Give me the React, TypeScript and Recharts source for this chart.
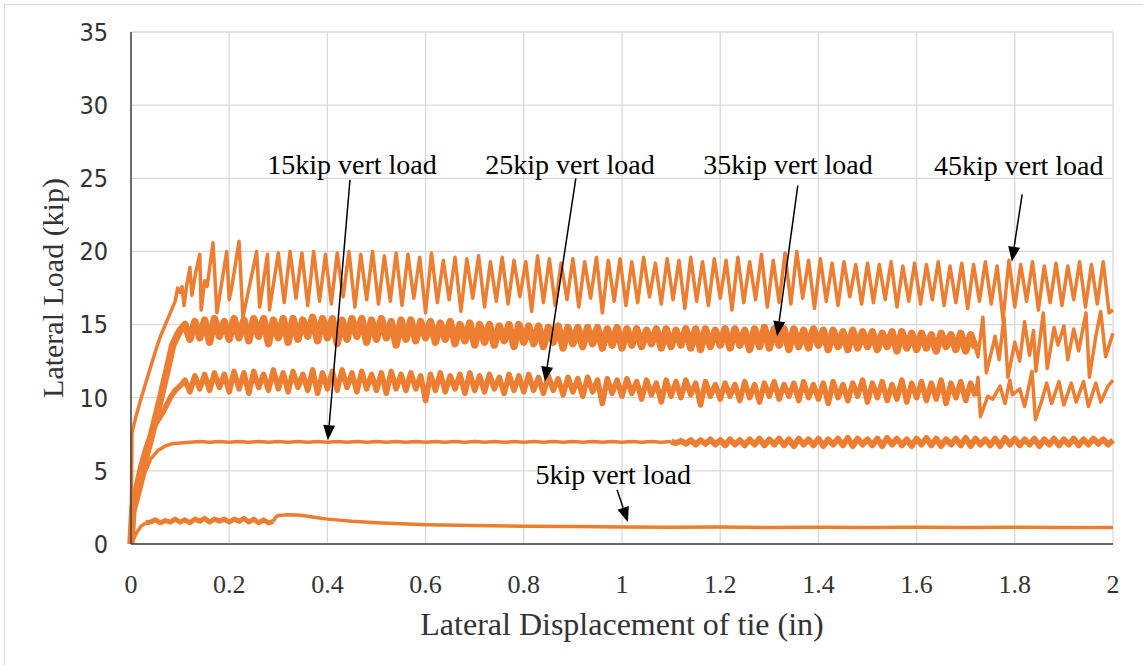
import React from 'react';
import { LineChart, Line, XAxis, YAxis, CartesianGrid, ReferenceLine, ReferenceDot, Label } from 'recharts';

const ORANGE = '#ED7D31';
const SERIF = "'Liberation Serif', 'Times New Roman', serif";
const NARROW = "'Liberation Sans Narrow', 'DejaVu Sans Condensed', sans-serif";

const xTicks = [0, 0.2, 0.4, 0.6, 0.8, 1, 1.2, 1.4, 1.6, 1.8, 2];
const yTicks = [0, 5, 10, 15, 20, 25, 30, 35];

// 5 kip vertical load
const load5Start: [number, number][] = [
  [0, 0], [0.006, 0.4], [0.012, 0.8], [0.02, 1.2], [0.03, 1.45],
];
const load5Noisy: [number, number][] = [
  [0.03, 1.45], [0.04, 1.5], [0.05, 1.65], [0.06, 1.45], [0.07, 1.6], [0.08, 1.5], [0.09, 1.7], [0.1, 1.5],
  [0.11, 1.65], [0.12, 1.45], [0.13, 1.7], [0.14, 1.55], [0.15, 1.75], [0.16, 1.5], [0.17, 1.7], [0.18, 1.55],
  [0.19, 1.7], [0.2, 1.5], [0.21, 1.7], [0.22, 1.55], [0.23, 1.75], [0.24, 1.5], [0.25, 1.7], [0.26, 1.45],
  [0.27, 1.65], [0.28, 1.45], [0.29, 1.55],
];
const load5Decay: [number, number][] = [
  [0.29, 1.55], [0.295, 1.85], [0.3, 1.95], [0.32, 2.0], [0.34, 1.98], [0.36, 1.9], [0.38, 1.8], [0.4, 1.7],
  [0.45, 1.55], [0.5, 1.45], [0.55, 1.38], [0.6, 1.32], [0.7, 1.27], [0.8, 1.22], [0.9, 1.2], [1.0, 1.17],
  [1.1, 1.15], [1.2, 1.16], [1.3, 1.13], [1.4, 1.15], [1.5, 1.12], [1.6, 1.14], [1.7, 1.12], [1.8, 1.14],
  [1.9, 1.12], [2.0, 1.13],
];

// 15 kip vertical load
const load15Rise: [number, number][] = [
  [0, 0], [0.004, 1.8], [0.014, 3.0], [0.028, 4.85], [0.04, 5.8], [0.055, 6.4], [0.07, 6.7], [0.083, 6.85], [0.1, 6.9],
];
// every 0.02 in from 0.12 in
const load15Flat = [
  6.95, 7.0, 6.95, 7.0, 6.95, 7.0, 6.95, 7.0, 6.95, 7.0,
  6.95, 7.0, 6.95, 7.0, 6.95, 7.0, 6.95, 7.0, 6.95, 7.0,
  6.95, 7.0, 6.95, 7.0, 6.95, 7.0, 6.95, 7.0, 6.95, 7.0,
  6.95, 7.0, 6.95, 7.0, 6.95, 7.0, 6.95, 7.0, 6.95, 7.0,
  6.95, 7.0, 6.95, 7.0, 6.95, 7.0, 6.95, 7.0, 6.95, 7.0,
];
// every 0.01 in from 1.10 in
const load15Noisy = [
  7.0, 6.9, 7.05, 6.85, 7.1, 6.8, 7.1, 6.85, 7.15, 6.8,
  7.1, 6.75, 7.15, 6.8, 7.1, 6.75, 7.15, 6.8, 7.2, 6.75,
  7.15, 6.8, 7.2, 6.75, 7.15, 6.7, 7.2, 6.8, 7.15, 6.75,
  7.2, 6.7, 7.15, 6.8, 7.2, 6.75, 7.25, 6.7, 7.2, 6.8,
  7.15, 6.75, 7.2, 6.7, 7.25, 6.8, 7.2, 6.75, 7.15, 6.7,
  7.2, 6.8, 7.25, 6.75, 7.2, 6.7, 7.15, 6.8, 7.2, 6.75,
  7.25, 6.7, 7.2, 6.8, 7.15, 6.75, 7.2, 6.7, 7.25, 6.8,
  7.2, 6.75, 7.15, 6.8, 7.2, 6.7, 7.15, 6.8, 7.2, 6.75,
  7.15, 6.8, 7.2, 6.75, 7.15, 6.8, 7.2, 6.85, 7.15, 6.8,
  7.1,
];

// 25 kip vertical load
const load25Rise: [number, number][] = [
  [0, 0], [0.005, 2.5], [0.01, 3.8], [0.02, 5.3], [0.03, 6.5], [0.04, 7.4], [0.05, 8.2], [0.065, 9.0],
  [0.08, 10.0], [0.09, 10.5], [0.1, 10.8],
];
// every 0.01 in from 0.11 in
const load25Band = [
  11.2, 10.4, 11.5, 10.6, 11.6, 10.5, 11.7, 10.7, 11.6, 10.4,
  11.8, 10.6, 11.7, 10.3, 11.8, 10.7, 11.6, 10.5, 11.9, 10.6,
  11.7, 10.4, 11.8, 10.7, 11.6, 10.5, 11.9, 10.3, 11.7, 10.6,
  11.8, 10.5, 11.9, 10.7, 11.7, 10.4, 11.8, 10.6, 11.6, 10.5,
  11.7, 10.3, 11.8, 10.6, 11.6, 10.5, 11.7, 10.6, 11.5, 9.8,
  11.6, 10.5, 11.7, 10.4, 11.5, 10.6, 11.6, 10.3, 11.7, 10.5,
  11.5, 10.4, 11.6, 10.6, 11.4, 10.3, 11.6, 10.5, 11.5, 10.4,
  11.6, 10.5, 11.4, 10.3, 11.5, 10.5, 11.3, 10.2, 11.4, 10.4,
  11.3, 10.1, 11.4, 10.4, 11.2, 9.6, 11.3, 10.3, 11.2, 10.1,
  11.3, 10.3, 11.1, 9.9, 11.2, 10.2, 11.0, 9.7, 11.2, 10.1,
  11.1, 10.0, 11.2, 10.2, 11.0, 9.5, 11.1, 10.1, 10.9, 9.9,
  11.0, 10.1, 10.9, 9.8, 11.1, 10.0, 10.9, 9.7, 11.0, 10.1,
  11.1, 9.9, 10.9, 10.1, 11.0, 9.8, 11.1, 10.0, 10.9, 9.9,
  11.0, 9.6, 11.1, 10.0, 10.9, 9.8, 11.0, 10.1, 11.2, 9.7,
  11.0, 10.0, 11.1, 9.8, 10.9, 9.9, 11.2, 9.7, 11.0, 10.0,
  11.1, 9.8, 11.0, 9.9, 11.2, 9.6, 11.0, 10.0, 11.1, 9.8,
  11.0, 10.1,
];
const load25Tail: [number, number][] = [
  [1.72, 10.1], [1.725, 11.4], [1.73, 8.7], [1.745, 10.1], [1.755, 9.9], [1.77, 10.8], [1.78, 9.6], [1.79, 11.2],
  [1.795, 10.2], [1.81, 10.6], [1.82, 9.4], [1.835, 11.8], [1.842, 8.5], [1.855, 9.8], [1.865, 11.0], [1.875, 9.6],
  [1.89, 11.1], [1.9, 9.5], [1.915, 11.0], [1.925, 9.7], [1.94, 11.1], [1.95, 9.4], [1.965, 11.0], [1.975, 9.7],
  [1.99, 10.8], [2.0, 11.2],
];

// 35 kip vertical load
const load35Rise: [number, number][] = [
  [0, 0], [0.004, 2.5], [0.012, 3.6], [0.025, 5.3], [0.043, 7.6], [0.059, 9.8], [0.075, 12.1], [0.085, 13.6],
  [0.095, 14.3], [0.1, 14.6],
];
// every 0.01 in from 0.11 in
const load35Band = [
  15.0, 14.0, 15.2, 14.1, 15.3, 13.8, 15.4, 14.2, 15.2, 14.0,
  15.4, 14.1, 15.3, 13.9, 15.4, 14.2, 15.4, 13.7, 15.3, 14.1,
  15.4, 13.8, 15.4, 14.0, 15.3, 14.2, 15.5, 13.9, 15.4, 14.1,
  15.4, 13.7, 15.3, 14.0, 15.4, 14.2, 15.4, 13.8, 15.3, 14.0,
  15.4, 14.1, 15.2, 13.6, 15.3, 14.0, 15.3, 13.9, 15.2, 14.1,
  15.2, 13.8, 15.1, 14.0, 15.2, 13.7, 15.0, 13.9, 15.1, 13.6,
  15.0, 13.8, 15.0, 13.6, 14.9, 13.9, 15.0, 13.5, 15.0, 13.8,
  14.9, 13.7, 14.9, 13.5, 14.8, 13.8, 14.9, 13.4, 14.8, 13.7,
  14.8, 13.5, 14.8, 13.7, 14.8, 13.4, 14.7, 13.6, 14.8, 13.4,
  14.7, 13.6, 14.7, 13.5, 14.6, 13.7, 14.7, 13.4, 14.7, 13.5,
  14.6, 13.6, 14.7, 13.4, 14.7, 13.3, 14.7, 13.5, 14.6, 13.6,
  14.7, 13.4, 14.7, 13.6, 14.6, 13.3, 14.7, 13.5, 14.8, 13.4,
  14.7, 13.6, 14.7, 13.3, 14.7, 13.5, 14.6, 13.4, 14.7, 13.6,
  14.6, 13.3, 14.6, 13.5, 14.5, 13.3, 14.6, 13.4, 14.5, 13.5,
  14.5, 13.3, 14.4, 13.5, 14.5, 13.2, 14.5, 13.4, 14.4, 13.3,
  14.4, 13.4, 14.3, 13.2, 14.4, 13.5, 14.3, 13.3, 14.4, 13.2,
  14.3, 13.4,
];
const load35Tail: [number, number][] = [
  [1.72, 13.4], [1.725, 12.8], [1.735, 15.5], [1.742, 11.7], [1.76, 14.2], [1.768, 12.6], [1.778, 15.5],
  [1.786, 11.4], [1.8, 13.8], [1.81, 12.5], [1.82, 15.2], [1.83, 12.9], [1.838, 14.6], [1.843, 11.8],
  [1.858, 15.8], [1.866, 12.0], [1.88, 14.8], [1.888, 13.6], [1.9, 14.9], [1.908, 12.6], [1.92, 14.7],
  [1.93, 13.2], [1.945, 15.8], [1.952, 11.4], [1.965, 14.2], [1.975, 15.9], [1.985, 12.8], [2.0, 14.4],
];

// 45 kip vertical load
const load45Rise: [number, number][] = [
  [0, 0], [0.001, 3.5], [0.002, 7.6], [0.01, 8.7], [0.02, 9.9], [0.03, 11.0], [0.04, 12.1], [0.05, 13.2],
  [0.06, 14.2], [0.07, 15.0], [0.08, 15.8], [0.09, 16.6], [0.095, 17.5], [0.1, 17.2], [0.104, 17.6], [0.108, 16.3],
  [0.114, 17.8], [0.12, 18.9], [0.124, 17.0], [0.132, 18.6], [0.14, 19.8], [0.143, 16.0], [0.15, 18.0], [0.155, 17.6],
  [0.167, 20.6], [0.175, 15.8], [0.195, 20.0], [0.2, 16.7], [0.205, 17.5], [0.22, 20.7], [0.228, 15.5], [0.256, 20.0],
  [0.262, 16.2], [0.278, 19.8], [0.282, 16.0],
];
// peaks and troughs every 0.012 in from 0.30 in
const load45Saw = [
  19.9, 16.5, 20.0, 16.8, 19.9, 16.3, 20.0, 16.6, 19.8, 16.4,
  19.9, 16.9, 20.0, 16.2, 19.8, 16.7, 20.0, 16.4, 19.7, 16.6,
  19.9, 16.3, 19.8, 16.8, 19.6, 15.8, 19.9, 16.5, 19.4, 16.7,
  19.6, 15.9, 19.5, 16.8, 19.7, 16.2, 19.3, 16.6, 19.6, 16.4,
  19.4, 16.9, 19.3, 15.9, 19.7, 16.5, 19.5, 16.3, 19.2, 16.7,
  19.5, 16.2, 19.3, 16.8, 19.6, 15.8, 19.4, 16.6, 19.5, 16.3,
  19.3, 16.5, 19.6, 16.9, 19.2, 16.4, 19.5, 16.7, 19.4, 16.1,
  19.6, 16.6, 19.3, 16.3, 19.5, 16.8, 19.4, 16.0, 19.6, 16.5,
  19.3, 16.7, 19.8, 16.2, 19.4, 16.5, 19.9, 16.4, 20.0, 16.8,
  19.4, 16.1, 19.5, 16.6, 19.2, 16.3, 19.3, 16.9, 19.1, 16.4,
  19.2, 16.5, 19.1, 16.7, 19.3, 16.2, 19.0, 16.6, 19.2, 16.4,
  19.1, 16.7, 19.3, 16.3, 19.0, 16.5, 19.2, 16.1, 19.1, 16.6,
  19.3, 16.4, 19.0, 15.3, 19.4, 16.2, 19.1, 16.6, 19.3, 16.0,
  19.0, 16.5, 19.2, 16.3, 19.0, 16.7, 19.3, 16.2, 19.1, 16.4,
  19.3, 15.8,
];
const load45Tail: [number, number][] = [[2.0, 16.0]];

// annotation text centres and arrow start/tip, in data units
const annotations = [
  { text: '15kip vert load', tx: 0.45, ty: 26.0, from: [0.446, 24.9], to: [0.401, 7.1] },
  { text: '25kip vert load', tx: 0.894, ty: 26.0, from: [0.906, 25.0], to: [0.843, 11.1] },
  { text: '35kip vert load', tx: 1.338, ty: 26.0, from: [1.358, 24.5], to: [1.316, 14.2] },
  { text: '45kip vert load', tx: 1.808, ty: 25.9, from: [1.815, 23.9], to: [1.794, 19.3] },
  { text: '5kip vert load', tx: 0.982, ty: 4.8, from: [0.99, 3.7], to: [1.012, 1.5] },
];

const toPts = (pairs: [number, number][]) => pairs.map(([x, y]) => ({ x, y }));
const sampled = (x0: number, dx: number, ys: number[]) =>
  ys.map((y, i) => ({ x: Math.round((x0 + i * dx) * 1000) / 1000, y }));

// noisy stretches are drawn with a heavier pen so they read as the dense bands of the original
const traces = [
  { data: toPts(load5Start), width: 3.5 },
  { data: toPts(load5Noisy), width: 5 },
  { data: toPts(load5Decay), width: 3.5 },
  { data: [...toPts(load15Rise), ...sampled(0.12, 0.02, load15Flat)], width: 3.5 },
  { data: sampled(1.1, 0.01, load15Noisy), width: 6 },
  { data: [...toPts(load25Rise), ...sampled(0.11, 0.01, load25Band)], width: 5.5 },
  { data: toPts(load25Tail), width: 3.5 },
  { data: [...toPts(load35Rise), ...sampled(0.11, 0.01, load35Band)], width: 7.5 },
  { data: toPts(load35Tail), width: 3.5 },
  { data: [...toPts(load45Rise), ...sampled(0.3, 0.012, load45Saw), ...toPts(load45Tail)], width: 3.5 },
];

const Arrow = (props: any) => {
  const { x1, y1, x2, y2 } = props;
  const dx = x2 - x1;
  const dy = y2 - y1;
  const len = Math.hypot(dx, dy) || 1;
  const ux = dx / len;
  const uy = dy / len;
  const head = 15;
  const half = 6;
  const bx = x2 - ux * head;
  const by = y2 - uy * head;
  return (
    <g>
      <line x1={x1} y1={y1} x2={bx} y2={by} stroke="#000" strokeWidth={1.5} />
      <polygon
        points={`${x2},${y2} ${bx - uy * half},${by + ux * half} ${bx + uy * half},${by - ux * half}`}
        fill="#000"
      />
    </g>
  );
};

export default function App() {
  return (
    <div style={{ position: 'absolute', left: 0, top: 0, width: 1143, height: 665, background: '#fff', overflow: 'hidden' }}>
      <div style={{ position: 'absolute', left: 4, top: 4, right: 0, bottom: 0, borderLeft: '1px solid #d9d9d9', borderTop: '1px solid #d9d9d9' }} />
      <LineChart width={1143} height={665} data={traces[0].data} margin={{ top: 32, right: 30, left: 0, bottom: 21 }}>
        <CartesianGrid stroke="#d9d9d9" strokeWidth={1.3} />
        <XAxis
          dataKey="x"
          type="number"
          domain={[0, 2]}
          ticks={xTicks}
          interval={0}
          height={100}
          tickSize={0}
          tickMargin={31}
          axisLine={{ stroke: '#404040', strokeWidth: 1.5 }}
          tick={{ fontSize: 26, fontFamily: SERIF, fill: '#333' }}
        >
          <Label
            value="Lateral Displacement of tie (in)"
            position="insideBottom"
            offset={9}
            style={{ fontSize: 32, fontFamily: SERIF, fill: '#333' }}
          />
        </XAxis>
        <YAxis
          type="number"
          domain={[0, 35]}
          ticks={yTicks}
          interval={0}
          width={131}
          tickSize={0}
          tickMargin={23}
          axisLine={{ stroke: '#404040', strokeWidth: 1.5 }}
          tick={{ fontSize: 25, fontFamily: NARROW, fill: '#333' }}
        >
          <Label
            value="Lateral Load (kip)"
            angle={-90}
            position="insideLeft"
            offset={52}
            style={{ fontSize: 30, fontFamily: SERIF, fill: '#333', textAnchor: 'middle' }}
          />
        </YAxis>
        {traces.map((t, i) => (
          <Line
            key={i}
            data={t.data}
            dataKey="y"
            type="linear"
            stroke={ORANGE}
            strokeWidth={t.width}
            strokeLinejoin="round"
            dot={false}
            activeDot={false}
            isAnimationActive={false}
          />
        ))}
        {annotations.map((a) => (
          <ReferenceLine
            key={'l' + a.text}
            segment={[{ x: a.from[0], y: a.from[1] }, { x: a.to[0], y: a.to[1] }]}
            shape={Arrow}
          />
        ))}
        {annotations.map((a) => (
          <ReferenceDot
            key={'t' + a.text}
            x={a.tx}
            y={a.ty}
            r={0}
            stroke="none"
            fill="none"
            label={{ value: a.text, position: 'center', fontSize: 28, fontFamily: SERIF, fill: '#000' }}
          />
        ))}
      </LineChart>
    </div>
  );
}
